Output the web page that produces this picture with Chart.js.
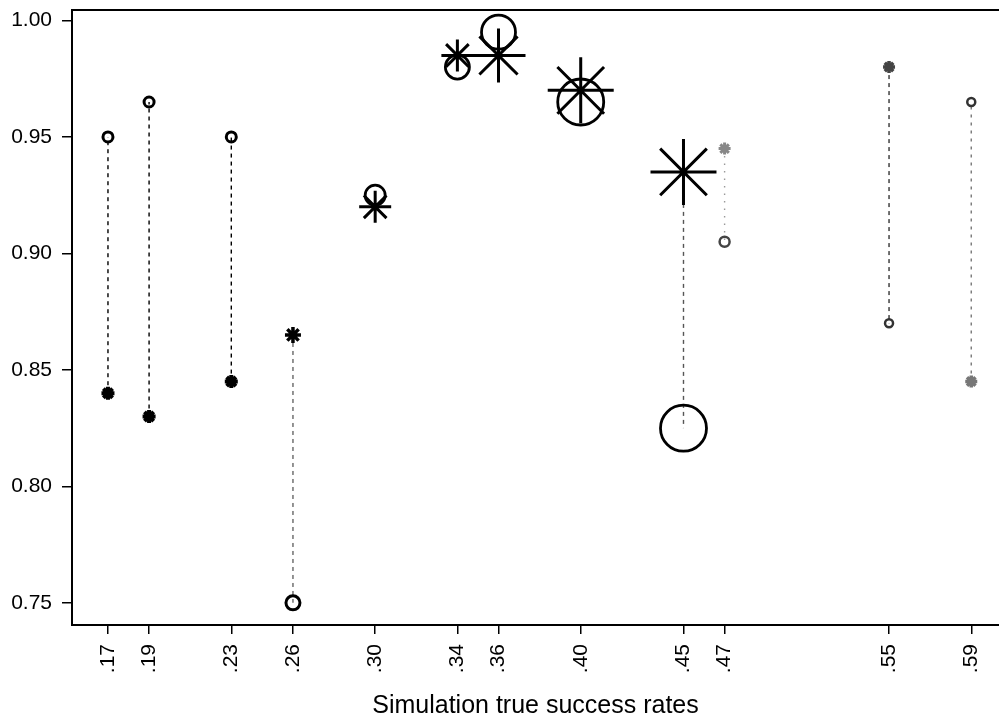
<!DOCTYPE html>
<html>
<head>
<meta charset="utf-8">
<script src="https://cdn.jsdelivr.net/npm/chart.js@4/dist/chart.umd.min.js"></script>
<style>
  html, body { margin: 0; padding: 0; background: #fff; }
  #wrap { width: 999px; height: 719px; position: relative; }
</style>
</head>
<body>
<div id="wrap"><canvas id="simChart"></canvas></div>
<script>
// ------------------------------------------------------------
// data
// ------------------------------------------------------------
const rates      = [0.17, 0.19, 0.23, 0.26, 0.30, 0.34, 0.36, 0.40, 0.45, 0.47, 0.55, 0.59];
const rateLabels = ['.17', '.19', '.23', '.26', '.30', '.34', '.36', '.40', '.45', '.47', '.55', '.59'];
const circleVals = [0.950, 0.965, 0.950, 0.750, 0.925, 0.980, 0.995, 0.965, 0.825, 0.905, 0.870, 0.965];
const starVals   = [0.840, 0.830, 0.845, 0.865, 0.920, 0.985, 0.985, 0.970, 0.935, 0.945, 0.980, 0.845];
const yTicks     = [0.75, 0.80, 0.85, 0.90, 0.95, 1.00];

// marker styling (per rate)
const circleRadius = [5, 5, 5, 7, 10, 12, 17, 23, 23, 5, 4, 4];
const circleWidth  = [3, 3, 3, 3, 2.8, 2.8, 2.8, 2.8, 2.8, 2.5, 2.5, 2.5];
const circleColor  = ['#000', '#000', '#000', '#000', '#000', '#000', '#000', '#000', '#000', '#444', '#333', '#333'];
const starRadius   = [6.5, 6.5, 6.5, 8, 16, 16, 27, 33, 33, 6, 6, 6];
const starWidth    = [4, 4, 4, 3.5, 3, 3, 3, 3, 3, 3, 3.5, 3.5];
const starColor    = ['#000', '#000', '#000', '#000', '#000', '#000', '#000', '#000', '#000', '#888', '#444', '#777'];
const lineColor    = ['#000', '#000', '#000', '#666', '#000', '#000', '#000', '#000', '#555', '#999', '#333', '#777'];
const lineDash     = [[4, 4], [4, 4], [4, 4], [4, 4], [4, 4], [4, 4], [4, 4], [4, 4], [4, 4], [1.5, 6], [4, 4], [3, 5]];

const FONT = "'Liberation Sans', Arial, Helvetica, sans-serif";

// dashed connectors between the two estimates at each rate
const linkSets = rates.map((r, i) => ({
  type: 'line',
  data: [{ x: r, y: starVals[i] }, { x: r, y: circleVals[i] }],
  borderColor: lineColor[i],
  borderWidth: 1.4,
  borderDash: lineDash[i],
  pointRadius: 0,
  fill: false,
  order: 3
}));

const circleSet = {
  type: 'scatter',
  data: rates.map((r, i) => ({ x: r, y: circleVals[i] })),
  pointStyle: 'circle',
  pointRadius: circleRadius,
  pointBorderWidth: circleWidth,
  pointBorderColor: circleColor,
  pointBackgroundColor: 'rgba(0,0,0,0)',
  order: 2
};

const starSet = {
  type: 'scatter',
  data: rates.map((r, i) => ({ x: r, y: starVals[i] })),
  pointStyle: 'star',
  pointRadius: starRadius,
  pointBorderWidth: starWidth,
  pointBorderColor: starColor,
  pointBackgroundColor: starColor,
  order: 1
};

// drop the automatic label overhang padding so the plot box sits where it should
function noPad(s) { s.paddingTop = 0; s.paddingBottom = 0; s.paddingLeft = 0; s.paddingRight = 0; }

const ctx = document.getElementById('simChart').getContext('2d');
new Chart(ctx, {
  type: 'scatter',
  data: { datasets: [starSet, circleSet, ...linkSets] },
  options: {
    responsive: true,
    maintainAspectRatio: false,
    animation: false,
    layout: { autoPadding: false, padding: { top: 10, right: 0, bottom: 0, left: 0 } },
    plugins: { legend: { display: false }, tooltip: { enabled: false } },
    scales: {
      x: {
        type: 'linear',
        position: 'bottom',
        min: 0.1525,
        max: 0.6035,
        afterBuildTicks: s => { s.ticks = rates.map(v => ({ value: v })); },
        afterFit: s => { s.height = 94; noPad(s); },
        ticks: {
          autoSkip: false,
          minRotation: 90,
          maxRotation: 90,
          padding: 10,
          color: '#000',
          font: { family: FONT, size: 21 },
          callback: (v, i) => rateLabels[i]
        },
        grid: { drawOnChartArea: false, drawTicks: true, tickLength: 9, color: '#000', lineWidth: 1.5 },
        border: { display: true, color: '#000', width: 2 },
        title: {
          display: true,
          text: 'Simulation true success rates',
          color: '#000',
          font: { family: FONT, size: 25 },
          padding: { top: 0, bottom: -2 }
        }
      },
      xTop: {
        type: 'linear',
        position: 'top',
        min: 0.1525,
        max: 0.6035,
        ticks: { display: false },
        grid: { display: false, drawTicks: false },
        border: { display: true, color: '#000', width: 2 },
        afterFit: s => { s.height = 0; noPad(s); }
      },
      y: {
        type: 'linear',
        min: 0.7405,
        max: 1.0045,
        afterBuildTicks: s => { s.ticks = yTicks.map(v => ({ value: v })); },
        afterFit: s => { s.width = 72; noPad(s); },
        ticks: {
          padding: 10,
          color: '#000',
          font: { family: FONT, size: 21 },
          callback: v => Number(v).toFixed(2)
        },
        grid: { drawOnChartArea: false, drawTicks: true, tickLength: 10, color: '#000', lineWidth: 1.5 },
        border: { display: true, color: '#000', width: 2 }
      }
    }
  }
});
</script>
</body>
</html>
